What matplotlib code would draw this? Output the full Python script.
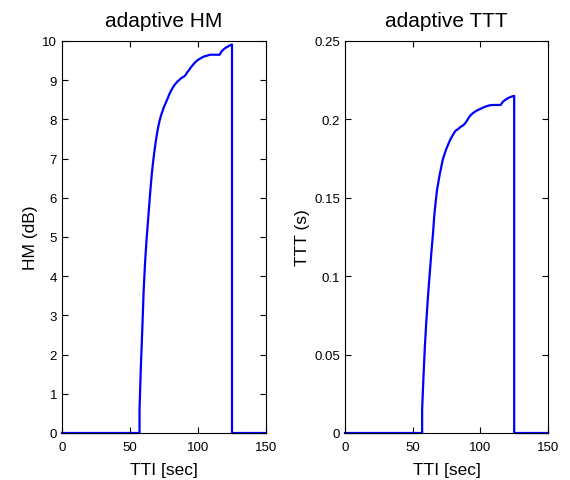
import matplotlib
matplotlib.use("Agg")
import matplotlib.pyplot as plt
import numpy as np

plt.rcParams['font.family'] = ['Liberation Sans', 'DejaVu Sans']

# time axis (s)
t_active = list(range(57, 126))
hm_active = [0.6, 1.7, 2.6, 3.6, 4.3, 4.85, 5.3, 5.75, 6.2, 6.6,
             6.92, 7.2, 7.45, 7.67, 7.85, 8.0, 8.12, 8.22, 8.32, 8.4,
             8.48, 8.56, 8.65, 8.72, 8.78, 8.84, 8.89, 8.93, 8.97, 9.0,
             9.03, 9.06, 9.08, 9.1, 9.14, 9.2, 9.24, 9.29, 9.34, 9.38,
             9.42, 9.46, 9.49, 9.52, 9.54, 9.56, 9.58, 9.6, 9.61, 9.62,
             9.63, 9.64, 9.65, 9.65, 9.65, 9.65, 9.65, 9.65, 9.65, 9.65,
             9.72, 9.76, 9.79, 9.82, 9.84, 9.86, 9.88, 9.9, 9.91]
ttt_active = [0.015, 0.036, 0.055, 0.070, 0.083, 0.095, 0.106, 0.117, 0.127, 0.139,
              0.1475, 0.155, 0.160, 0.165, 0.169, 0.1735, 0.1765, 0.179, 0.1815, 0.1835,
              0.1855, 0.1875, 0.189, 0.1905, 0.192, 0.193, 0.1935, 0.194, 0.195, 0.1955,
              0.196, 0.1968, 0.1978, 0.199, 0.2005, 0.2018, 0.2028, 0.2036, 0.2043, 0.2049,
              0.2054, 0.2059, 0.2063, 0.2067, 0.2071, 0.2075, 0.2079, 0.2082, 0.2085, 0.2088,
              0.209, 0.2091, 0.2092, 0.2092, 0.2092, 0.2092, 0.2092, 0.2092, 0.2092, 0.2105,
              0.2115, 0.2122, 0.2128, 0.2133, 0.2138, 0.2142, 0.2145, 0.2148, 0.215]
t_start, t_jump_on, t_off, t_end = 0, 57, 125, 150

x_ticks = [0, 50, 100, 150]
hm_ticks = list(range(0, 11))
ttt_ticks = [0, 0.05, 0.1, 0.15, 0.2, 0.25]
ttt_ticklabels = ['0', '0.05', '0.1', '0.15', '0.2', '0.25']

def build(vals):
    t = [t_start, t_jump_on] + t_active + [t_off, t_end]
    y = [0, 0] + vals + [0, 0]
    return t, y

fig = plt.figure(figsize=(5.70, 4.81), dpi=100)
ax1 = fig.add_axes([62/570, 47/481, 204/570, 392/481])
ax2 = fig.add_axes([345/570, 47/481, 203/570, 392/481])

for ax, vals, ttl, ylab in [(ax1, hm_active, 'adaptive HM', 'HM (dB)'),
                             (ax2, ttt_active, 'adaptive TTT', 'TTT (s)')]:
    t, y = build(vals)
    ax.plot(t, y, color='#0000ff', lw=1.6, clip_on=False)
    ax.set_xlim(0, 150)
    ax.set_xticks(x_ticks)
    ax.set_title(ttl, fontsize=15, pad=11)
    ax.set_xlabel('TTI [sec]', fontsize=12.5, labelpad=6)
    ax.set_ylabel(ylab, fontsize=12.5, labelpad=3)
    ax.tick_params(direction='in', top=True, right=True, labelsize=9.5, length=4, width=0.8)
    ax.tick_params(axis='x', pad=6)
    ax.tick_params(axis='y', pad=3.5)
    for s in ax.spines.values():
        s.set_linewidth(0.8)

ax1.set_ylim(0, 10)
ax1.set_yticks(hm_ticks)
ax2.set_ylim(0, 0.25)
ax2.set_yticks(ttt_ticks)
ax2.set_yticklabels(ttt_ticklabels)

fig.savefig('out.png', dpi=100)
